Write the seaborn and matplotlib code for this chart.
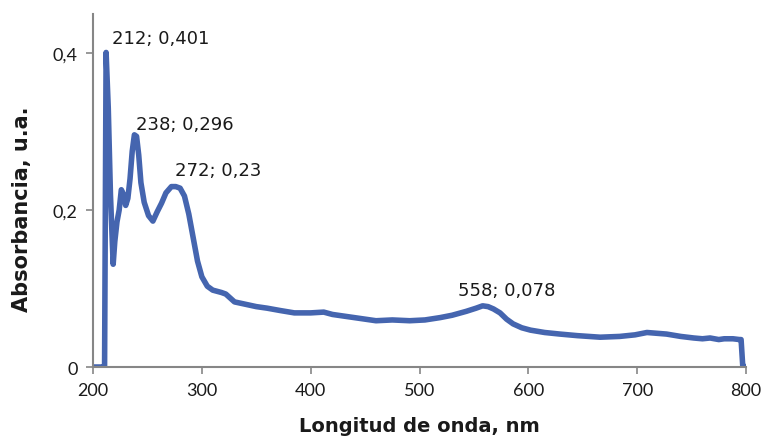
import matplotlib
matplotlib.use("Agg")
import matplotlib.pyplot as plt
from matplotlib.ticker import FuncFormatter
import seaborn as sns
import pandas as pd

# UV-Vis absorption spectrum
wavelength_nm = [
    200, 210, 210.6, 212, 214, 216, 218.5, 220, 222, 224, 226, 228, 230, 232,
    234, 236, 238, 240, 242, 244, 247, 251, 255, 259, 263, 267, 272, 276,
    280, 284, 288, 292, 296, 300, 305, 310, 318, 322, 326, 330, 340, 350,
    360, 372, 385, 400, 412, 420, 430, 445, 460, 475, 491, 505, 519, 530,
    543, 552, 558, 563, 568, 574, 580, 586, 594, 602, 615, 629, 645, 666,
    684, 698, 709, 718, 727, 740, 752, 760, 767, 775, 780, 788, 794, 795.5,
    797, 800,
]
absorbance = [
    0.0, 0.0, 0.0, 0.401, 0.33, 0.22, 0.131, 0.16, 0.185, 0.2, 0.226, 0.22,
    0.206, 0.215, 0.24, 0.275, 0.296, 0.294, 0.27, 0.235, 0.21, 0.193, 0.186,
    0.198, 0.209, 0.222, 0.23, 0.23, 0.228, 0.218, 0.195, 0.165, 0.135,
    0.115, 0.103, 0.098, 0.095, 0.093, 0.088, 0.083, 0.08, 0.077, 0.075,
    0.072, 0.069, 0.069, 0.07, 0.067, 0.065, 0.062, 0.059, 0.06, 0.059,
    0.06, 0.063, 0.066, 0.071, 0.075, 0.078, 0.077, 0.074, 0.069, 0.061,
    0.055, 0.05, 0.047, 0.044, 0.042, 0.04, 0.038, 0.039, 0.041, 0.044,
    0.043, 0.042, 0.039, 0.037, 0.036, 0.037, 0.035, 0.036, 0.036, 0.035,
    0.035, 0.002, 0.0,
]

# Labelled maxima
peak_nm = [212, 238, 272, 558]
peak_abs = [0.401, 0.296, 0.23, 0.078]
# label offsets from each maximum, in pixels (dx, dy)
label_offsets_px = [(6, 14), (2, 11), (4, 17), (-25, 16)]

x_ticks = [200, 300, 400, 500, 600, 700, 800]
y_ticks = [0, 0.2, 0.4]

sns.set_theme(style="white")
plt.rcParams["font.family"] = ["DejaVu Sans"]

line_color = "#4565AF"
axis_color = "#868686"
text_color = "#1a1a1a"

df = pd.DataFrame({"Longitud de onda, nm": wavelength_nm,
                   "Absorbancia, u.a.": absorbance})

fig = plt.figure(figsize=(7.67, 4.39), dpi=100)
ax = fig.add_axes([0.1213, 0.1617, 0.8513, 0.8041])

sns.lineplot(data=df, x="Longitud de onda, nm", y="Absorbancia, u.a.",
             ax=ax, color=line_color, linewidth=4.0, estimator=None,
             sort=False, solid_joinstyle="round", solid_capstyle="round")

ax.set_xlim(200, 800)
ax.set_ylim(0, 0.45)
ax.set_xticks(x_ticks)
ax.set_yticks(y_ticks)


def comma_fmt(v, _pos=None):
    if abs(v) < 1e-12:
        return "0"
    return f"{v:g}".replace(".", ",")


ax.yaxis.set_major_formatter(FuncFormatter(comma_fmt))
ax.xaxis.set_major_formatter(FuncFormatter(lambda v, p: f"{v:.0f}"))

for side in ("top", "right"):
    ax.spines[side].set_visible(False)
for side in ("left", "bottom"):
    ax.spines[side].set_color(axis_color)
    ax.spines[side].set_linewidth(1.5)

ax.tick_params(axis="both", which="major", direction="out", length=5,
               width=1.2, color=axis_color, labelcolor=text_color,
               pad=6, bottom=True, left=True)
for lbl in ax.get_xticklabels() + ax.get_yticklabels():
    lbl.set_fontfamily(["Lato", "DejaVu Sans"])
    lbl.set_fontsize(13)

ax.set_xlabel("Longitud de onda, nm", fontsize=14, fontweight="bold",
              color=text_color, labelpad=13)
ax.set_ylabel("Absorbancia, u.a.", fontsize=15, fontweight="bold",
              color=text_color)
ax.yaxis.set_label_coords(-0.093, 0.45)

px_to_pt = 72 / fig.dpi
for nm, a, (dx, dy) in zip(peak_nm, peak_abs, label_offsets_px):
    label = f"{nm}; {comma_fmt(a)}"
    ax.annotate(label, xy=(nm, a), xytext=(dx * px_to_pt, dy * px_to_pt),
                textcoords="offset points", ha="left", va="center",
                fontsize=13, color=text_color)

fig.savefig("out.png", dpi=100)
